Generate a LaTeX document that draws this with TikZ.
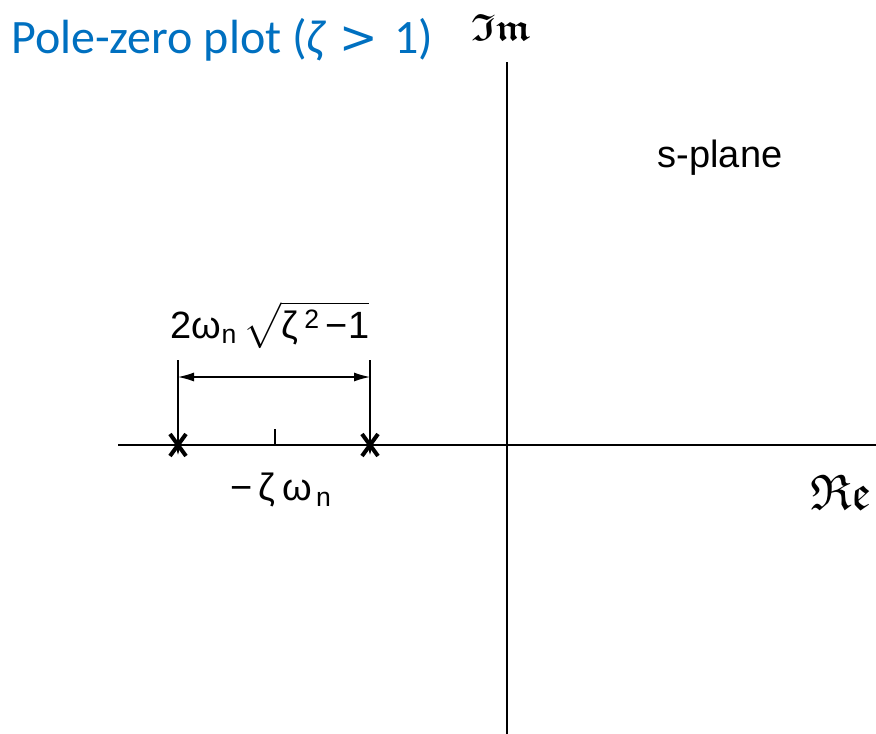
\documentclass[tikz,border=0pt]{standalone}
\usepackage{amsmath,amssymb}
\usepackage{fontspec}
\newfontfamily\titlefont{Carlito}
\newfontfamily\labfont{Liberation Sans}
\newfontfamily\symfont{DejaVu Sans}
\definecolor{titleblue}{RGB}{0,112,192}
\usetikzlibrary{arrows.meta}
\begin{document}
\begin{tikzpicture}[x=1pt,y=-1pt,
  axis/.style={line width=1.6pt},
  dimline/.style={line width=1.2pt},
  polemark/.style={line width=4pt},
  lab/.style={font=\labfont\fontsize{38}{42}\selectfont, inner sep=0pt}]
\useasboundingbox (0,0) rectangle (876,734);
% axes
\coordinate (ytop) at (507,62);
\coordinate (ybot) at (507,734);
\coordinate (xl) at (118,445);
\coordinate (xr) at (876,445);
\draw[axis] (ytop) -- (ybot);
\draw[axis] (xl) -- (xr);
% poles
\coordinate (p1) at (178,445);
\coordinate (p2) at (370,445);
\foreach \p in {p1,p2}{
  \draw[polemark] ([shift={(-8,-11)}]\p) -- ([shift={(8,11)}]\p);
  \draw[polemark] ([shift={(8,-11)}]\p) -- ([shift={(-8,11)}]\p);
}
% tick
\coordinate (tk) at (275,445);
\draw[line width=1.2pt] (tk) -- ++(0,-16);
% dimension lines
\coordinate (d1) at (178,360);
\coordinate (d2) at (370,360);
\draw[dimline,-{Latex[length=11pt,width=8pt]}] (d1) -- ([yshift=-10]p1);
\draw[dimline,-{Latex[length=11pt,width=8pt]}] (d2) -- ([yshift=-10]p2);
\coordinate (a1) at (178,377);
\coordinate (a2) at (370,377);
\draw[dimline,{Latex[length=16pt,width=9pt]}-{Latex[length=16pt,width=9pt]}] (a1) -- (a2);
% labels
\node[lab] (dlab) at (270,325) {2ω\textsubscript{n}\,$\sqrt{\text{ζ\,\textsuperscript{2}\,−1}}$};
\node[lab] (sig) at (281,490) {−\,ζ\,ω\textsubscript{\,n}};
\node[lab] (spl) at (720,158) {s-plane};
\node[font=\fontsize{38}{40}\selectfont, inner sep=0pt] (im) at (501,27) {$\boldsymbol{\mathfrak{Im}}$};
\node[font=\fontsize{50}{52}\selectfont, inner sep=0pt] (re) at (841,492) {$\mathfrak{Re}$};
\node[font=\titlefont\fontsize{48}{54}\selectfont, text=titleblue, anchor=west, inner sep=0pt] (title) at (11,40) {Pole-zero plot ({\itshape ζ}\,\,{\symfont\fontsize{46}{50}\selectfont >}\,\,1)};
\end{tikzpicture}
\end{document}
